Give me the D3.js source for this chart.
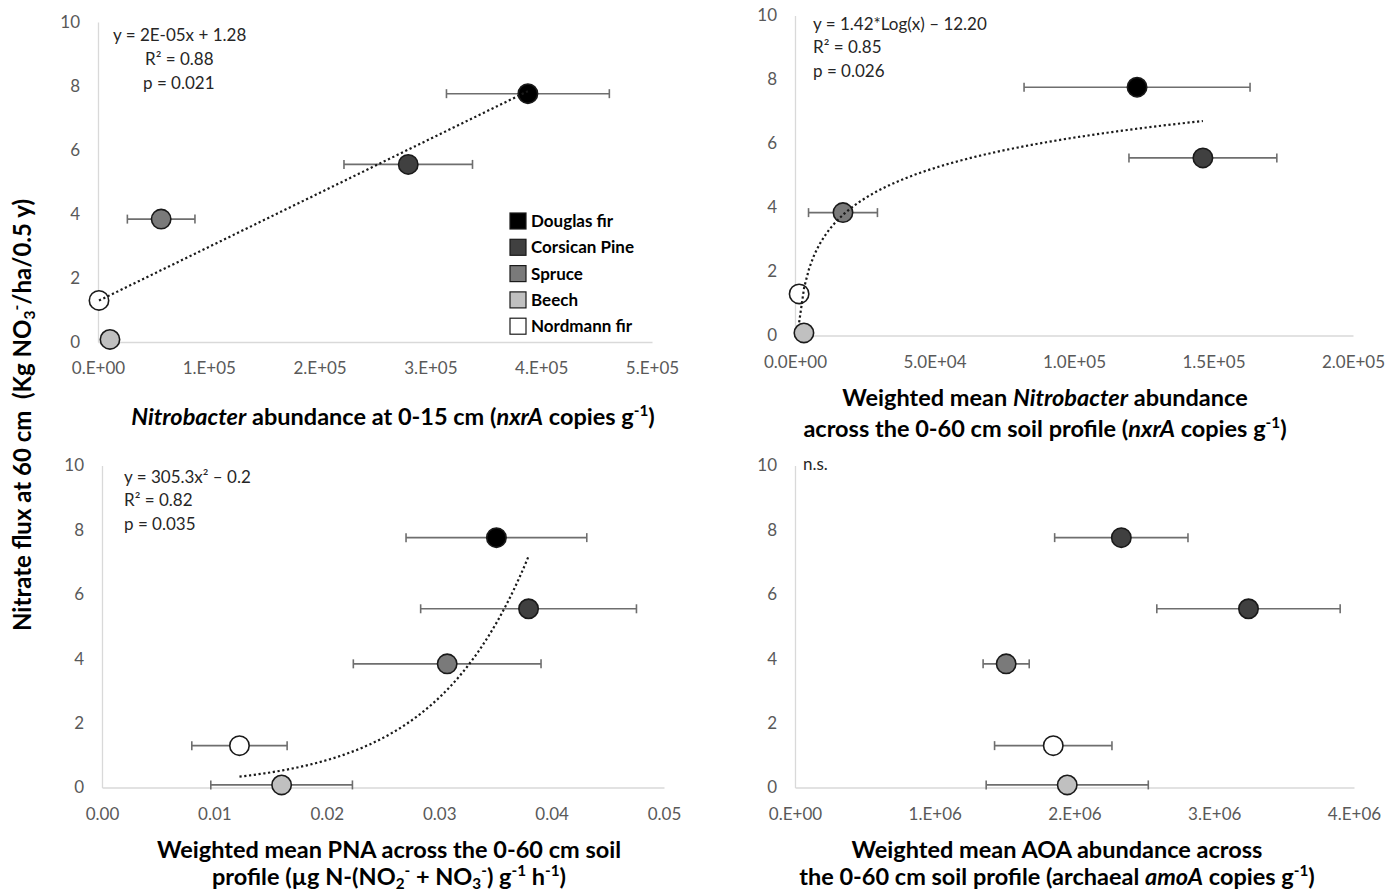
<!DOCTYPE html>
<html>
<head>
<meta charset="utf-8">
<script src="https://cdn.jsdelivr.net/npm/d3@7"></script>
<style>
body { margin: 0; background: #fff; }
svg text { font-family: Lato, "Open Sans", sans-serif; }
</style>
</head>
<body>
<div id="chart"></div>
<script>
// species, same order in every panel
var species = ["Douglas fir", "Corsican Pine", "Spruce", "Beech", "Nordmann fir"];
var speciesFill = ["#000000", "#404040", "#7a7a7a", "#c0c0c0", "#ffffff"];
var aoaFill = ["#404040", "#404040", "#7a7a7a", "#c0c0c0", "#ffffff"];

// nitrate flux at 60 cm (Kg NO3-/ha/0.5 y)
var nitrateFlux = [7.76, 5.55, 3.84, 0.08, 1.30];

// Nitrobacter abundance 0-15 cm
var nxr15 = [388000, 280000, 57000, 10800, 900];
var nxr15Err = [73500, 58000, 30500, 0, 0];
// weighted mean Nitrobacter 0-60 cm
var nxrMean = [122600, 146200, 17200, 3200, 1480];
var nxrMeanErr = [40500, 26500, 12350, 0, 0];
// weighted mean PNA
var pna = [0.03509, 0.03795, 0.03071, 0.01598, 0.01223];
var pnaErr = [0.00804, 0.0096, 0.00835, 0.0063, 0.00424];
// weighted mean AOA
var aoa = [2335000, 3245000, 1511000, 1948000, 1848000];
var aoaErr = [477000, 656000, 165000, 580000, 420000];

// trendline coefficients
var trendLin = [1.69e-5, 1.28];   // y = a*x + b
var trendLog = [1.37, -9.59];     // y = a*ln(x) + b
var trendExp = [0.0788, 118.9];   // y = a*exp(b*x)

// ticks
var yTicks = [0, 2, 4, 6, 8, 10];
var ticksA = [0, 1e5, 2e5, 3e5, 4e5, 5e5];
var labelsA = ["0.E+00", "1.E+05", "2.E+05", "3.E+05", "4.E+05", "5.E+05"];
var ticksB = [0, 5e4, 1e5, 1.5e5, 2e5];
var labelsB = ["0.0E+00", "5.0E+04", "1.0E+05", "1.5E+05", "2.0E+05"];
var ticksC = [0, 0.01, 0.02, 0.03, 0.04, 0.05];
var labelsC = ["0.00", "0.01", "0.02", "0.03", "0.04", "0.05"];
var ticksD = [0, 1e6, 2e6, 3e6, 4e6];
var labelsD = ["0.E+00", "1.E+06", "2.E+06", "3.E+06", "4.E+06"];

var svg = d3.select("#chart").append("svg")
	.attr("width", 1389)
	.attr("height", 894);

// writes mixed text (italic / sub / sup) into a text element
function richText(sel, parts, size) {
	var shift = 0;
	parts.forEach(function(p) {
		var ts = sel.append("tspan").text(p[0]);
		var target = 0;
		if (p[1] == "sup") { target = -size * 0.38; ts.style("font-size", (size * 0.65) + "px"); }
		else if (p[1] == "sub") { target = size * 0.16; ts.style("font-size", (size * 0.65) + "px"); }
		else if (p[1] == "i") { ts.style("font-style", "italic"); }
		ts.attr("dy", target - shift);
		shift = target;
	});
}

var titleSize = 23.5;

var panels = [
	{ x: nxr15, err: nxr15Err, fill: speciesFill, dom: [0, 5e5], ticks: ticksA, labels: labelsA,
	  left: 98, right: 652, top: 22, bottom: 342,
	  trend: function(x) { return trendLin[0] * x + trendLin[1]; },
	  notes: [["y = 2E-05x + 1.28", 113, 41], ["R² = 0.88", 145, 65], ["p = 0.021", 143, 89]],
	  titleX: 393, titleY: [425],
	  title: [[["Nitrobacter", "i"], [" abundance at 0-15 cm ("], ["nxrA", "i"], [" copies g"], ["-1", "sup"], [")"]]] },
	{ x: nxrMean, err: nxrMeanErr, fill: speciesFill, dom: [0, 2e5], ticks: ticksB, labels: labelsB,
	  left: 795, right: 1353, top: 15.5, bottom: 335.5,
	  trend: function(x) { return trendLog[0] * Math.log(x) + trendLog[1]; },
	  notes: [["y = 1.42*Log(x) – 12.20", 813, 30], ["R² = 0.85", 813, 53], ["p = 0.026", 813, 77]],
	  titleX: 1045, titleY: [406, 437],
	  title: [[["Weighted mean "], ["Nitrobacter", "i"], [" abundance"]],
	          [["across the 0-60 cm soil profile ("], ["nxrA", "i"], [" copies g"], ["-1", "sup"], [")"]]] },
	{ x: pna, err: pnaErr, fill: speciesFill, dom: [0, 0.05], ticks: ticksC, labels: labelsC,
	  left: 102, right: 664, top: 465.5, bottom: 787.5,
	  trend: function(x) { return trendExp[0] * Math.exp(trendExp[1] * x); },
	  notes: [["y = 305.3x² – 0.2", 124, 483], ["R² = 0.82", 124, 506], ["p = 0.035", 124, 530]],
	  titleX: 389, titleY: [858, 885],
	  title: [[["Weighted mean PNA across the 0-60 cm soil"]],
	          [["profile (µg N-(NO"], ["2", "sub"], ["-", "sup"], [" + NO"], ["3", "sub"], ["-", "sup"], [") g"], ["-1", "sup"], [" h"], ["-1", "sup"], [")"]]] },
	{ x: aoa, err: aoaErr, fill: aoaFill, dom: [0, 4e6], ticks: ticksD, labels: labelsD,
	  left: 795, right: 1354, top: 465.5, bottom: 787.5,
	  trend: null,
	  notes: [["n.s.", 803, 470]],
	  titleX: 1057, titleY: [858, 885],
	  title: [[["Weighted mean AOA abundance across"]],
	          [["the 0-60 cm soil profile (archaeal "], ["amoA", "i"], [" copies g"], ["-1", "sup"], [")"]]] }
];

panels.forEach(function(p) {
	var xScale = d3.scaleLinear().domain(p.dom).range([p.left, p.right]);
	var yScale = d3.scaleLinear().domain([0, 10]).range([p.bottom, p.top]);
	var g = svg.append("g");

	// axes
	var xAxis = g.append("g")
		.attr("transform", "translate(0," + p.bottom + ")")
		.call(d3.axisBottom(xScale).tickValues(p.ticks).tickSize(0).tickPadding(20)
			.tickFormat(function(d, i) { return p.labels[i]; }));
	var yAxis = g.append("g")
		.attr("transform", "translate(" + p.left + ",0)")
		.call(d3.axisLeft(yScale).tickValues(yTicks).tickSize(0).tickPadding(18));
	[xAxis, yAxis].forEach(function(a) {
		a.select(".domain").style("stroke", "#d9d9d9").style("stroke-width", 1.3);
		a.selectAll("text").style("font-size", "17px").style("fill", "#595959")
			.style("font-family", "Lato, sans-serif");
	});

	// error bars
	var bars = g.selectAll(".err")
		.data(p.x.map(function(v, i) { return { x: v, y: nitrateFlux[i], e: p.err[i] }; })
			.filter(function(d) { return d.e > 0; }))
		.enter().append("g").attr("class", "err")
		.style("stroke", "#6e6e6e").style("stroke-width", 1.6);
	bars.append("line")
		.attr("x1", function(d) { return xScale(d.x - d.e); })
		.attr("x2", function(d) { return xScale(d.x + d.e); })
		.attr("y1", function(d) { return yScale(d.y); })
		.attr("y2", function(d) { return yScale(d.y); });
	[-1, 1].forEach(function(s) {
		bars.append("line")
			.attr("x1", function(d) { return xScale(d.x + s * d.e); })
			.attr("x2", function(d) { return xScale(d.x + s * d.e); })
			.attr("y1", function(d) { return yScale(d.y) - 4.5; })
			.attr("y2", function(d) { return yScale(d.y) + 4.5; });
	});

	// markers
	g.selectAll(".pt")
		.data(p.x)
		.enter().append("circle")
			.attr("class", "pt")
			.attr("cx", function(d) { return xScale(d); })
			.attr("cy", function(d, i) { return yScale(nitrateFlux[i]); })
			.attr("r", 9.7)
			.style("fill", function(d, i) { return p.fill[i]; })
			.style("stroke", "#1a1a1a")
			.style("stroke-width", 1.6);

	// trendline over the data range
	if (p.trend) {
		var xs = d3.extent(p.x);
		var pts = d3.range(0, 81).map(function(k) {
			var xv = xs[0] + (xs[1] - xs[0]) * k / 80;
			return [xScale(xv), yScale(p.trend(xv))];
		});
		g.append("path")
			.attr("d", d3.line()(pts))
			.style("fill", "none")
			.style("stroke", "#1a1a1a")
			.style("stroke-width", 2.2)
			.style("stroke-dasharray", "2.2,2.6");
	}

	// equation notes
	p.notes.forEach(function(n) {
		g.append("text")
			.attr("x", n[1]).attr("y", n[2])
			.style("font-size", "17px")
			.style("fill", "#262626")
			.text(n[0]);
	});

	// x axis title
	p.title.forEach(function(line, i) {
		var t = g.append("text")
			.attr("x", p.titleX).attr("y", p.titleY[i])
			.style("text-anchor", "middle")
			.style("font-size", titleSize + "px")
			.style("font-weight", 700)
			.style("fill", "#000");
		richText(t, line, titleSize);
	});
});

// y axis title
var yTitle = svg.append("text")
	.attr("transform", "translate(31,415) rotate(-90)")
	.style("text-anchor", "middle")
	.style("font-size", "24px")
	.style("font-weight", 700)
	.style("white-space", "pre")
	.style("fill", "#000");
richText(yTitle, [["Nitrate flux at 60 cm  (Kg NO"], ["3", "sub"], ["-", "sup"], ["/ha/0.5 y)"]], 24);

// legend
var legend = svg.selectAll(".legend")
	.data(species)
	.enter().append("g")
		.attr("class", "legend")
		.attr("transform", function(d, i) { return "translate(510," + (221 + i * 26.3) + ")"; });
legend.append("rect")
	.attr("x", 0).attr("y", -8)
	.attr("width", 16).attr("height", 16)
	.style("fill", function(d, i) { return speciesFill[i]; })
	.style("stroke", "#1a1a1a")
	.style("stroke-width", 1.2);
legend.append("text")
	.attr("x", 21).attr("y", 6)
	.style("font-size", "17px")
	.style("font-weight", 700)
	.style("fill", "#000")
	.text(function(d) { return d; });
</script>
</body>
</html>
